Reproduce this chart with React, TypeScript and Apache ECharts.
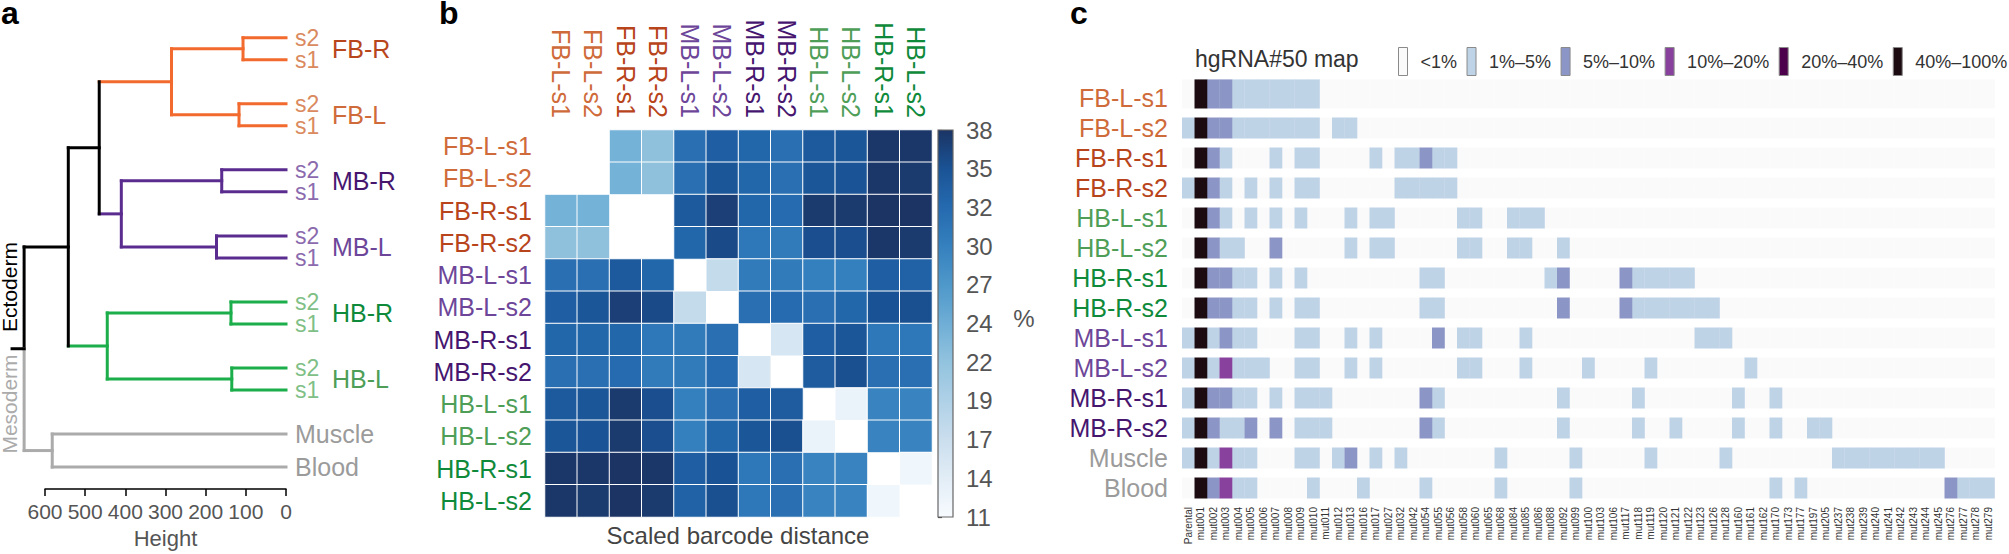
import React, { useEffect, useRef } from "react";
import * as echarts from "echarts";

const FONT = "'Liberation Sans', Arial, Helvetica, sans-serif";

// ---------------- Panel a : dendrogram ----------------
const LEAF_LABELS = ["s2", "s1", "s2", "s1", "s2", "s1", "s2", "s1", "s2", "s1", "s2", "s1", "Muscle", "Blood"];
const LEAF_POS = [0, 1, 3, 4, 6, 7, 9, 10, 12, 13, 15, 16, 18, 19.5];
const CLUSTER_LABELS = ["FB-R", "FB-L", "MB-R", "MB-L", "HB-R", "HB-L"];
// node ids 0-13 are leaves, merge k becomes node 14 + k
const MERGE_A = [0, 2, 14, 4, 6, 17, 16, 8, 10, 21, 20, 12, 24];
const MERGE_B = [1, 3, 15, 5, 7, 18, 19, 9, 11, 22, 23, 13, 25];
const MERGE_HEIGHT = [107, 117, 285, 160, 173, 410, 465, 137, 135, 445, 542, 582, 652];
const HEIGHT_AXIS_MAX = 600;

// ---------------- Panel b : heatmap ----------------
const HEAT_LABELS = ["FB-L-s1", "FB-L-s2", "FB-R-s1", "FB-R-s2", "MB-L-s1", "MB-L-s2", "MB-R-s1", "MB-R-s2", "HB-L-s1", "HB-L-s2", "HB-R-s1", "HB-L-s2"];
const HEAT_ROW_0 = [null, null, 24, 22, 32, 34, 33, 32, 34.5, 35, 37.8, 37.8];
const HEAT_ROW_1 = [null, null, 24, 22, 32, 35, 33, 32, 35, 35.2, 37.8, 37.5];
const HEAT_ROW_2 = [24, 24, null, null, 34.5, 37, 33, 32.5, 37.5, 37.5, 38, 38];
const HEAT_ROW_3 = [22, 22, null, null, 33, 36, 31, 30.5, 35.7, 35.7, 37.8, 37.5];
const HEAT_ROW_4 = [32, 32, 34.5, 33, null, 17, 30.5, 30.5, 30, 30, 34, 33.5];
const HEAT_ROW_5 = [34, 35, 37, 36, 17, null, 32, 32.5, 32, 33, 35.3, 35.6];
const HEAT_ROW_6 = [33, 33, 33, 31, 30.5, 32, null, 15, 34, 35, 31, 31];
const HEAT_ROW_7 = [32, 32, 32.5, 30.5, 30.5, 32.5, 15, null, 34.3, 35.6, 32, 32];
const HEAT_ROW_8 = [34.5, 35, 37.5, 35.7, 30, 32, 34, 34.3, null, 12.5, 29.5, 29.5];
const HEAT_ROW_9 = [35, 35.2, 37.5, 35.7, 30, 33, 35, 35.6, 12.5, null, 29.5, 29.5];
const HEAT_ROW_10 = [37.8, 37.8, 38, 37.8, 34, 35.3, 31, 32, 29.5, 29.5, null, 12];
const HEAT_ROW_11 = [37.8, 37.5, 38, 37.5, 33.5, 35.6, 31, 32, 29.5, 29.5, 12, null];
const HEAT_ROWS = [HEAT_ROW_0, HEAT_ROW_1, HEAT_ROW_2, HEAT_ROW_3, HEAT_ROW_4, HEAT_ROW_5, HEAT_ROW_6, HEAT_ROW_7, HEAT_ROW_8, HEAT_ROW_9, HEAT_ROW_10, HEAT_ROW_11];
const HEAT_MIN = 11;
const HEAT_MAX = 38;
const COLORBAR_TICKS = ["11", "14", "17", "19", "22", "24", "27", "30", "32", "35", "38"];

// ---------------- Panel c : hgRNA#50 map ----------------
const LEVELS = ["<1%", "1%–5%", "5%–10%", "10%–20%", "20%–40%", "40%–100%"];
const C_COLS = [
  "Parental", "mut001", "mut002", "mut003", "mut004", "mut005", "mut006", "mut007", "mut008", "mut009",
  "mut010", "mut011", "mut012", "mut013", "mut016", "mut017", "mut027", "mut032", "mut042", "mut054",
  "mut055", "mut056", "mut058", "mut060", "mut065", "mut068", "mut084", "mut085", "mut086", "mut088",
  "mut092", "mut099", "mut100", "mut103", "mut106", "mut117", "mut118", "mut119", "mut120", "mut121",
  "mut122", "mut123", "mut126", "mut128", "mut160", "mut161", "mut162", "mut170", "mut173", "mut177",
  "mut197", "mut205", "mut237", "mut238", "mut239", "mut240", "mut241", "mut242", "mut243", "mut244",
  "mut245", "mut276", "mut277", "mut278", "mut279",
];
const C_ROWS = ["FB-L-s1", "FB-L-s2", "FB-R-s1", "FB-R-s2", "HB-L-s1", "HB-L-s2", "HB-R-s1", "HB-R-s2", "MB-L-s1", "MB-L-s2", "MB-R-s1", "MB-R-s2", "Muscle", "Blood"];
// level index per column (0 = <1%, 1 = 1–5%, 2 = 5–10%, 3 = 10–20%, 4 = 20–40%, 5 = 40–100%)
const C_FB_L_S1 = [
  0, 5, 2, 2, 1, 1, 1, 1, 1, 1,
  1, 0, 0, 0, 0, 0, 0, 0, 0, 0,
  0, 0, 0, 0, 0, 0, 0, 0, 0, 0,
  0, 0, 0, 0, 0, 0, 0, 0, 0, 0,
  0, 0, 0, 0, 0, 0, 0, 0, 0, 0,
  0, 0, 0, 0, 0, 0, 0, 0, 0, 0,
  0, 0, 0, 0, 0];
const C_FB_L_S2 = [
  1, 5, 2, 2, 1, 1, 1, 1, 1, 1,
  1, 0, 1, 1, 0, 0, 0, 0, 0, 0,
  0, 0, 0, 0, 0, 0, 0, 0, 0, 0,
  0, 0, 0, 0, 0, 0, 0, 0, 0, 0,
  0, 0, 0, 0, 0, 0, 0, 0, 0, 0,
  0, 0, 0, 0, 0, 0, 0, 0, 0, 0,
  0, 0, 0, 0, 0];
const C_FB_R_S1 = [
  0, 5, 2, 1, 0, 0, 0, 1, 0, 1,
  1, 0, 0, 0, 0, 1, 0, 1, 1, 2,
  1, 1, 0, 0, 0, 0, 0, 0, 0, 0,
  0, 0, 0, 0, 0, 0, 0, 0, 0, 0,
  0, 0, 0, 0, 0, 0, 0, 0, 0, 0,
  0, 0, 0, 0, 0, 0, 0, 0, 0, 0,
  0, 0, 0, 0, 0];
const C_FB_R_S2 = [
  1, 5, 2, 1, 0, 1, 0, 1, 0, 1,
  1, 0, 0, 0, 0, 0, 0, 1, 1, 1,
  1, 1, 0, 0, 0, 0, 0, 0, 0, 0,
  0, 0, 0, 0, 0, 0, 0, 0, 0, 0,
  0, 0, 0, 0, 0, 0, 0, 0, 0, 0,
  0, 0, 0, 0, 0, 0, 0, 0, 0, 0,
  0, 0, 0, 0, 0];
const C_HB_L_S1 = [
  0, 5, 2, 1, 0, 1, 0, 1, 0, 1,
  0, 0, 0, 1, 0, 1, 1, 0, 0, 0,
  0, 0, 1, 1, 0, 0, 1, 1, 1, 0,
  0, 0, 0, 0, 0, 0, 0, 0, 0, 0,
  0, 0, 0, 0, 0, 0, 0, 0, 0, 0,
  0, 0, 0, 0, 0, 0, 0, 0, 0, 0,
  0, 0, 0, 0, 0];
const C_HB_L_S2 = [
  0, 5, 2, 1, 1, 0, 0, 2, 0, 0,
  0, 0, 0, 1, 0, 1, 1, 0, 0, 0,
  0, 0, 1, 1, 0, 0, 1, 1, 0, 0,
  1, 0, 0, 0, 0, 0, 0, 0, 0, 0,
  0, 0, 0, 0, 0, 0, 0, 0, 0, 0,
  0, 0, 0, 0, 0, 0, 0, 0, 0, 0,
  0, 0, 0, 0, 0];
const C_HB_R_S1 = [
  0, 5, 2, 2, 1, 1, 0, 1, 0, 1,
  0, 0, 0, 0, 0, 0, 0, 0, 0, 1,
  1, 0, 0, 0, 0, 0, 0, 0, 0, 1,
  2, 0, 0, 0, 0, 2, 1, 1, 1, 1,
  1, 0, 0, 0, 0, 0, 0, 0, 0, 0,
  0, 0, 0, 0, 0, 0, 0, 0, 0, 0,
  0, 0, 0, 0, 0];
const C_HB_R_S2 = [
  0, 5, 2, 2, 1, 1, 0, 1, 0, 1,
  1, 0, 0, 0, 0, 0, 0, 0, 0, 1,
  1, 0, 0, 0, 0, 0, 0, 0, 0, 0,
  2, 0, 0, 0, 0, 2, 1, 1, 1, 1,
  1, 1, 1, 0, 0, 0, 0, 0, 0, 0,
  0, 0, 0, 0, 0, 0, 0, 0, 0, 0,
  0, 0, 0, 0, 0];
const C_MB_L_S1 = [
  1, 5, 1, 2, 1, 1, 0, 0, 0, 1,
  1, 0, 0, 1, 0, 1, 0, 0, 0, 0,
  2, 0, 1, 1, 0, 0, 0, 1, 0, 0,
  0, 0, 0, 0, 0, 0, 0, 0, 0, 0,
  0, 1, 1, 1, 0, 0, 0, 0, 0, 0,
  0, 0, 0, 0, 0, 0, 0, 0, 0, 0,
  0, 0, 0, 0, 0];
const C_MB_L_S2 = [
  1, 5, 1, 3, 1, 1, 1, 0, 0, 1,
  1, 0, 0, 1, 0, 1, 0, 0, 0, 0,
  0, 0, 1, 1, 0, 0, 0, 1, 0, 0,
  0, 0, 1, 0, 0, 0, 0, 1, 0, 0,
  0, 0, 0, 0, 0, 1, 0, 0, 0, 0,
  0, 0, 0, 0, 0, 0, 0, 0, 0, 0,
  0, 0, 0, 0, 0];
const C_MB_R_S1 = [
  1, 5, 2, 2, 1, 1, 0, 1, 0, 1,
  1, 1, 0, 0, 0, 0, 0, 0, 0, 2,
  1, 0, 0, 0, 0, 0, 0, 0, 0, 0,
  1, 0, 0, 0, 0, 0, 1, 0, 0, 0,
  0, 0, 0, 0, 1, 0, 0, 1, 0, 0,
  0, 0, 0, 0, 0, 0, 0, 0, 0, 0,
  0, 0, 0, 0, 0];
const C_MB_R_S2 = [
  1, 5, 2, 1, 1, 2, 0, 2, 0, 1,
  1, 1, 0, 0, 0, 0, 0, 0, 0, 2,
  1, 0, 0, 0, 0, 0, 0, 0, 0, 0,
  1, 0, 0, 0, 0, 0, 1, 0, 0, 1,
  0, 0, 0, 0, 1, 0, 0, 1, 0, 0,
  1, 1, 0, 0, 0, 0, 0, 0, 0, 0,
  0, 0, 0, 0, 0];
const C_MUSCLE = [
  1, 5, 1, 3, 1, 1, 0, 0, 0, 1,
  1, 0, 1, 2, 0, 1, 0, 1, 0, 0,
  0, 0, 0, 0, 0, 1, 0, 0, 0, 0,
  0, 1, 0, 0, 0, 0, 0, 1, 0, 0,
  0, 0, 0, 1, 0, 0, 0, 0, 0, 0,
  0, 0, 1, 1, 1, 1, 1, 1, 1, 1,
  1, 0, 0, 0, 0];
const C_BLOOD = [
  0, 5, 2, 3, 1, 1, 0, 0, 0, 0,
  1, 0, 0, 0, 1, 0, 0, 0, 0, 1,
  0, 0, 0, 0, 0, 1, 0, 0, 0, 0,
  0, 1, 0, 0, 0, 0, 0, 0, 0, 0,
  0, 0, 0, 0, 0, 0, 0, 1, 0, 1,
  0, 0, 0, 0, 0, 0, 0, 0, 0, 0,
  0, 2, 1, 1, 1];
const C_MATRIX = [C_FB_L_S1, C_FB_L_S2, C_FB_R_S1, C_FB_R_S2, C_HB_L_S1, C_HB_L_S2, C_HB_R_S1, C_HB_R_S2, C_MB_L_S1, C_MB_L_S2, C_MB_R_S1, C_MB_R_S2, C_MUSCLE, C_BLOOD];

// ---------------- styles ----------------
const GROUP_COLORS = ["#F26A2E", "#5B2C8F", "#1BAE4B", "#ABABAB", "#000000"]; // fb, mb, hb, meso, black
const NODE_GROUP = [0, 0, 0, 0, 1, 1, 1, 1, 2, 2, 2, 2, 3, 3, 0, 0, 0, 1, 1, 1, 4, 2, 2, 2, 4, 3, 4];
const LEAF_TEXT_COLORS = ["#DA8A5E", "#DA8A5E", "#DA8A5E", "#DA8A5E", "#8B6BAE", "#8B6BAE", "#8B6BAE", "#8B6BAE", "#80BF86", "#80BF86", "#80BF86", "#80BF86", "#9B9B9B", "#9B9B9B"];
const CLUSTER_TEXT_COLORS = ["#B8461D", "#CF6B3A", "#46166F", "#6D4699", "#0E8A3A", "#4E9E57"];
const HEAT_LABEL_COLORS = ["#CF6B3A", "#CF6B3A", "#B8441B", "#B8441B", "#6D4699", "#6D4699", "#46166F", "#46166F", "#4E9E57", "#4E9E57", "#0E8A3A", "#0E8A3A"];
const C_ROW_COLORS = ["#CF6B3A", "#CF6B3A", "#B8441B", "#B8441B", "#4E9E57", "#4E9E57", "#0E8A3A", "#0E8A3A", "#6D4699", "#6D4699", "#46166F", "#46166F", "#9B9B9B", "#9B9B9B"];
const BLUES = ["#F7FBFF", "#E2EDF6", "#CADEEE", "#AFD1E7", "#92C3DE", "#6FAED6", "#4E98CA", "#3580BE", "#256AAF", "#1A5395", "#1B3464"];
const LEVEL_COLORS = ["#FAFAFA", "#BFD3E6", "#8C96C6", "#88419D", "#4D004B", "#1C0C12"];

function buildOption() {
  // ---- dendrogram segments from merges ----
  const nodeY: number[] = LEAF_POS.slice();
  const nodeH: number[] = LEAF_POS.map(() => 0);
  MERGE_A.forEach((a, k) => {
    const b = MERGE_B[k];
    nodeY.push((nodeY[a] + nodeY[b]) / 2);
    nodeH.push(MERGE_HEIGHT[k]);
  });
  const rootId = LEAF_POS.length + MERGE_A.length - 1;
  const segs: number[][] = [];
  MERGE_A.forEach((a, k) => {
    const id = LEAF_POS.length + k;
    const b = MERGE_B[k];
    const h = MERGE_HEIGHT[k];
    segs.push([nodeH[a], nodeY[a], h, nodeY[a], NODE_GROUP[a]]);
    segs.push([nodeH[b], nodeY[b], h, nodeY[b], NODE_GROUP[b]]);
    if (id === rootId) {
      segs.push([h, nodeY[a], h, nodeY[id], 4]);
      segs.push([h, nodeY[id], h, nodeY[b], 3]);
      segs.push([h, nodeY[id], h + 30, nodeY[id], 4]);
    } else {
      segs.push([h, nodeY[a], h, nodeY[b], NODE_GROUP[id]]);
    }
  });
  const leafData = LEAF_POS.map((p, i) => [0, p, i]);
  const clusterData = CLUSTER_LABELS.map((_, k) => [0, (LEAF_POS[2 * k] + LEAF_POS[2 * k + 1]) / 2, 100 + k]);

  // ---- heatmap ----
  const heatData: number[][] = [];
  HEAT_ROWS.forEach((row, r) => row.forEach((v, c) => { if (v !== null) heatData.push([c, r, v as number]); }));

  // ---- panel c ----
  const levelData: number[][][] = LEVELS.map(() => []);
  C_MATRIX.forEach((row, r) => row.forEach((lv, c) => levelData[lv].push([c, r])));

  const txt = (size: number) => `${size}px ${FONT}`;

  const cSeries = LEVELS.map((name, lv) => ({
    type: "custom",
    name,
    xAxisIndex: 3,
    yAxisIndex: 3,
    itemStyle: { color: LEVEL_COLORS[lv] },
    data: levelData[lv],
    renderItem: (params: any, api: any) => {
      const x = api.value(0);
      const y = api.value(1);
      const p = api.coord([x, y]);
      const sz = api.size([1, 1]);
      const h = sz[1] * 0.7;
      const extra = y === 0 ? sz[1] * 0.27 : 0;
      return {
        type: "rect",
        shape: { x: p[0] - sz[0] / 2, y: p[1] - h / 2 - extra, width: sz[0] + 0.3, height: h + extra },
        style: { fill: LEVEL_COLORS[lv] },
      };
    },
  }));

  // top (offset 0) is the darkest colour, stops in increasing offset order
  const gradientStops = BLUES.slice().reverse().map((c, i) => ({ offset: i / (BLUES.length - 1), color: c }));

  return {
    animation: false,
    textStyle: { fontFamily: FONT },
    title: [
      { text: "a", left: 1, top: -3, padding: 0, textStyle: { fontSize: 32, fontWeight: "bold", color: "#000", fontFamily: FONT } },
      { text: "b", left: 439, top: -3, padding: 0, textStyle: { fontSize: 32, fontWeight: "bold", color: "#000", fontFamily: FONT } },
      { text: "c", left: 1070, top: -3, padding: 0, textStyle: { fontSize: 32, fontWeight: "bold", color: "#000", fontFamily: FONT } },
      { text: "hgRNA#50 map", left: 1195, top: 47, padding: 0, textStyle: { fontSize: 23, fontWeight: "normal", color: "#333", fontFamily: FONT } },
    ],
    legend: {
      data: LEVELS,
      left: 1398,
      top: 47,
      padding: 0,
      itemWidth: 9,
      itemHeight: 28,
      itemGap: 9.5,
      icon: "rect",
      selectedMode: false,
      itemStyle: { borderColor: "#8A8A8A", borderWidth: 1 },
      textStyle: { fontSize: 18, color: "#333", fontFamily: FONT, padding: [0, 0, 0, 8] },
    },
    visualMap: {
      type: "continuous",
      show: false,
      min: HEAT_MIN,
      max: HEAT_MAX,
      seriesIndex: 2,
      inRange: { color: BLUES },
    },
    grid: [
      { left: 45, top: 4.7, width: 241, height: 488.4 },
      { left: 545, top: 130, width: 387, height: 387 },
      { left: 938, top: 130, width: 15, height: 387 },
      { left: 1182, top: 83, width: 812.5, height: 420 },
    ],
    xAxis: [
      {
        gridIndex: 0, type: "value", min: 0, max: HEIGHT_AXIS_MAX, interval: 100, inverse: true, position: "bottom",
        axisLine: { show: true, onZero: false, lineStyle: { color: "#000", width: 1.5 } },
        axisTick: { show: true, length: 7, lineStyle: { color: "#000", width: 1.5 } },
        axisLabel: { fontSize: 21, color: "#555", margin: 12, fontFamily: FONT },
        splitLine: { show: false },
        name: "Height", nameLocation: "middle", nameGap: 36,
        nameTextStyle: { fontSize: 22, color: "#555", fontFamily: FONT },
      },
      {
        gridIndex: 1, type: "category", position: "top", data: HEAT_LABELS.map((_, i) => "c" + i),
        axisLine: { show: false }, axisTick: { show: false },
        axisLabel: {
          rotate: 90, interval: 0, margin: 12, fontSize: 25, fontFamily: FONT,
          formatter: (_v: string, i: number) => HEAT_LABELS[i],
          color: (_v: string, i: number) => HEAT_LABEL_COLORS[i],
        },
      },
      { gridIndex: 2, type: "value", show: false, min: 0, max: 1 },
      {
        gridIndex: 3, type: "category", data: C_COLS, position: "bottom",
        axisLine: { show: false }, axisTick: { show: false },
        axisLabel: { rotate: 90, interval: 0, margin: 4, fontSize: 10, color: "#333", fontFamily: FONT },
      },
    ],
    yAxis: [
      { gridIndex: 0, type: "value", min: -1.5, max: 20.5, inverse: true, show: false },
      {
        gridIndex: 1, type: "category", inverse: true, data: HEAT_LABELS.map((_, i) => "r" + i),
        axisLine: { show: false }, axisTick: { show: false },
        axisLabel: {
          interval: 0, margin: 13, fontSize: 25, fontFamily: FONT,
          formatter: (_v: string, i: number) => HEAT_LABELS[i],
          color: (_v: string, i: number) => HEAT_LABEL_COLORS[i],
        },
      },
      {
        gridIndex: 2, type: "category", position: "right", boundaryGap: false, data: COLORBAR_TICKS,
        axisLine: { show: false },
        axisTick: { show: true, length: 4, lineStyle: { color: "#444", width: 1.2 } },
        axisLabel: { interval: 0, margin: 13, fontSize: 24, color: "#555", fontFamily: FONT },
        splitLine: { show: false },
      },
      {
        gridIndex: 3, type: "category", inverse: true, data: C_ROWS,
        axisLine: { show: false }, axisTick: { show: false },
        axisLabel: {
          interval: 0, margin: 14, fontSize: 25, fontFamily: FONT,
          color: (_v: string, i: number) => C_ROW_COLORS[i],
        },
      },
    ],
    series: [
      {
        type: "custom",
        xAxisIndex: 0,
        yAxisIndex: 0,
        clip: false,
        data: segs,
        encode: { x: [0, 2], y: [1, 3] },
        renderItem: (params: any, api: any) => {
          const a = api.coord([api.value(0), api.value(1)]);
          const b = api.coord([api.value(2), api.value(3)]);
          return {
            type: "line",
            shape: { x1: a[0], y1: a[1], x2: b[0], y2: b[1] },
            style: { stroke: GROUP_COLORS[api.value(4)], lineWidth: 3, lineCap: "square" },
          };
        },
      },
      {
        type: "custom",
        xAxisIndex: 0,
        yAxisIndex: 0,
        clip: false,
        data: leafData.concat(clusterData),
        renderItem: (params: any, api: any) => {
          const p = api.coord([api.value(0), api.value(1)]);
          const idx = api.value(2);
          const isCluster = idx >= 100;
          const text = isCluster ? CLUSTER_LABELS[idx - 100] : LEAF_LABELS[idx];
          const fill = isCluster ? CLUSTER_TEXT_COLORS[idx - 100] : LEAF_TEXT_COLORS[idx];
          const size = isCluster || idx >= 12 ? 25 : 23;
          return {
            type: "text",
            x: p[0] + (isCluster ? 46 : 9),
            y: p[1],
            style: {
              text, fill, font: txt(size), lineHeight: 20,
              textAlign: "left", textVerticalAlign: "middle", align: "left", verticalAlign: "middle",
            },
          };
        },
      },
      {
        type: "heatmap",
        xAxisIndex: 1,
        yAxisIndex: 1,
        data: heatData,
        itemStyle: { borderColor: "#FFFFFF", borderWidth: 1 },
        emphasis: { disabled: true },
      },
      {
        type: "custom",
        xAxisIndex: 2,
        yAxisIndex: 2,
        clip: false,
        data: [[0, 0]],
        renderItem: (params: any) => {
          const cs = params.coordSys;
          return {
            type: "rect",
            shape: { x: cs.x, y: cs.y, width: cs.width, height: cs.height },
            style: {
              fill: new echarts.graphic.LinearGradient(0, 0, 0, 1, gradientStops),
              stroke: "#666",
              lineWidth: 1.2,
            },
          };
        },
      },
      ...cSeries,
    ],
    graphic: [
      {
        type: "text", x: 9.5, y: 287, rotation: Math.PI / 2,
        style: { text: "Ectoderm", fill: "#000", font: txt(21), textAlign: "center", textVerticalAlign: "middle", align: "center", verticalAlign: "middle" },
      },
      {
        type: "text", x: 9.5, y: 404, rotation: Math.PI / 2,
        style: { text: "Mesoderm", fill: "#ABABAB", font: txt(21), textAlign: "center", textVerticalAlign: "middle", align: "center", verticalAlign: "middle" },
      },
      {
        type: "text", x: 738, y: 535,
        style: { text: "Scaled barcode distance", fill: "#444", font: txt(24), textAlign: "center", textVerticalAlign: "middle", align: "center", verticalAlign: "middle" },
      },
      {
        type: "text", x: 1024, y: 318,
        style: { text: "%", fill: "#555", font: txt(24), textAlign: "center", textVerticalAlign: "middle", align: "center", verticalAlign: "middle" },
      },
    ],
  };
}

export default function App() {
  const ref = useRef<HTMLDivElement>(null);
  useEffect(() => {
    if (!ref.current) return;
    const chart = echarts.init(ref.current, undefined, { renderer: "svg" });
    chart.setOption(buildOption() as any);
    return () => chart.dispose();
  }, []);
  return (
    <div
      ref={ref}
      style={{ position: "fixed", left: 0, top: 0, width: "2009px", height: "554px", background: "#fff" }}
    />
  );
}
